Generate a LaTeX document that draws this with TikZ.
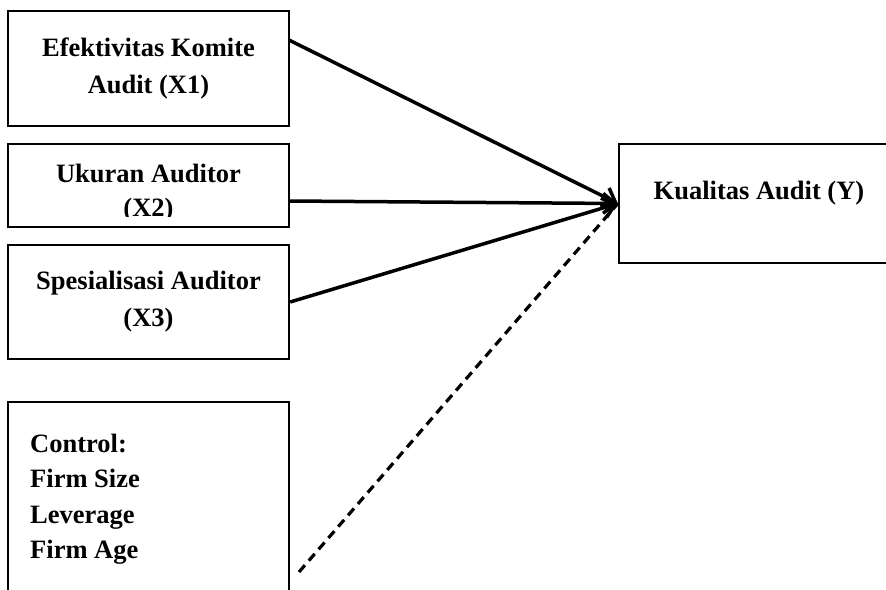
\documentclass[tikz,border=0pt]{standalone}
\usepackage{fontspec}
\setmainfont{Liberation Serif}
\usepackage{tikz}
\usetikzlibrary{positioning,arrows.meta}
\tikzset{myBox/.style={draw=black,line width=2.3pt,inner sep=0pt,align=center,font=\fontsize{26.5}{37}\selectfont\bfseries}}
\tikzset{myArrow/.style={line width=3.5pt,-{Straight Barb[length=12pt,width=20pt,line width=3.5pt]}}}
\tikzset{myDash/.style={line width=3.2pt,dash pattern=on 9pt off 6pt}}
\tikzset{myText/.style={inner sep=0pt,font=\fontsize{26.5}{35.3}\selectfont\bfseries}}

\begin{document}
\begin{tikzpicture}[x=1pt,y=-1pt]
	\useasboundingbox (0,0) rectangle (886,589);
	%\draw[help lines, step=50pt](0,0) grid(886,589);
	\node[myBox, minimum width=281pt, minimum height=115pt] (x1) at (148.5,68.5) {Efektivitas Komite\\Audit (X1)};
	\node[myBox, minimum width=281pt, minimum height=83pt] (x2) at (148.5,185.5) {};
	\node[myBox, minimum width=281pt, minimum height=114pt] (x3) at (148.5,302) {Spesialisasi Auditor\\(X3)};
	\node[myBox, minimum width=290pt, minimum height=119pt] (kual) at (764,203.5) {};
	\node[myText, anchor=base] (ylabel) at (759,199) {Kualitas Audit (Y)};

	% text of X2 runs past the box
	\begin{scope}
		\clip (10,146) rectangle (287,216);
		\node[myText, align=center, anchor=north, font=\fontsize{26.5}{33.5}\selectfont\bfseries] (x2text) at (148.5,164) {Ukuran Auditor\\(X2)};
	\end{scope}

	% control box, open at the bottom
	\draw[line width=2.3pt] (8,600) -- (8,402) -- (289,402) -- (289,600);
	\node[myText, align=left, anchor=north west] (ctrl) at (30,434) {Control:\\Firm Size\\Leverage\\Firm Age};

	\coordinate (s1) at (289,40);
	\coordinate (s2) at (289,201);
	\coordinate (d0) at (299,572);
	\draw[myArrow] (s1) -- (kual.west);
	\draw[myArrow] (s2) -- (kual.west);
	\draw[myArrow] (x3.east) -- (kual.west);
	\draw[myDash] (d0) -- (kual.west);
\end{tikzpicture}
\end{document}
